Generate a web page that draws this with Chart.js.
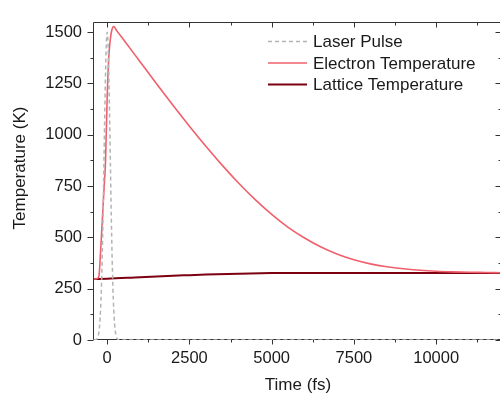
<!DOCTYPE html>
<html>
<head>
<meta charset="utf-8">
<script src="https://cdn.jsdelivr.net/npm/chart.js@4.4.1/dist/chart.umd.min.js"></script>
<style>
  html, body { margin: 0; padding: 0; background: #fff; overflow: hidden; width: 500px; height: 396px; }
  canvas { display: block; }
</style>
</head>
<body>
<canvas id="chart" width="504" height="396"></canvas>
<script>
// values
const pulseTime = [-400, -375, -350, -325, -300, -275, -250, -225, -200, -175, -150, -125, -100, -75, -50, -25, 0,
  25, 50, 75, 100, 125, 150, 175, 200, 225, 250, 275, 300, 325, 350, 375, 400, 12000];
const pulseTemp = [0, 0, 1, 3, 8, 19, 40, 80, 149, 255, 408, 608, 842, 1084, 1298, 1447, 1500,
  1447, 1298, 1084, 842, 608, 408, 255, 149, 80, 40, 19, 8, 3, 1, 0, 0, 0];

const electronTime = [-400, -350, -300, -250, -200, -150, -100, -50, 0, 50, 100, 150, 200, 300, 500, 1000, 1500,
  2000, 2500, 3000, 3500, 4000, 4500, 5000, 5500, 6000, 6500, 7000, 7500, 8000, 8500, 9000, 9500, 10000,
  10500, 11000, 11500, 12000];
const electronTemp = [297, 298, 300, 312, 431, 577, 723, 870, 1180, 1380, 1470, 1515, 1527, 1505, 1463, 1356, 1249,
  1144, 1042, 944, 851, 764, 684, 612, 549, 497, 453, 418, 391, 371, 357, 347, 340, 335,
  332, 330, 329, 328];

const latticeTime = [-400, 0, 1000, 2000, 2500, 3000, 4000, 5000, 6000, 8000, 10000, 12000];
const latticeTemp = [297, 298, 306, 313, 316, 319, 323, 326, 327, 327, 327, 327];

const seriesLabels = ['Laser Pulse', 'Electron Temperature', 'Lattice Temperature'];
const yTitle = 'Temperature (K)';

const xMajor = [0, 2500, 5000, 7500, 10000];
const xMinor = [1250, 3750, 6250, 8750, 11250];
const yMajor = [0, 250, 500, 750, 1000, 1250, 1500];
const yMinor = [125, 375, 625, 875, 1125, 1375];

const FONT = '"Liberation Sans", Arial, sans-serif';

function toPoints(xs, ys) {
    return xs.map((x, i) => ({ x: x, y: ys[i] }));
}

// frame with ticks: outward on left/bottom, inward on top/right
const framePlugin = {
    id: 'frame',
    beforeDatasetsDraw(chart) {
        const { ctx, chartArea: a, scales } = chart;
        const L = Math.round(a.left) - 0.5, R = Math.round(a.right) - 0.5;
        const T = Math.round(a.top) + 0.5, B = Math.round(a.bottom) - 0.5;
        ctx.save();
        ctx.strokeStyle = '#333';
        ctx.lineWidth = 1;
        ctx.beginPath();
        ctx.moveTo(L, T); ctx.lineTo(R, T); ctx.lineTo(R, B); ctx.lineTo(L, B); ctx.closePath();
        ctx.stroke();

        ctx.beginPath();
        const tick = (vals, len) => {
            vals.forEach(v => {
                const y = Math.round(scales.y.getPixelForValue(v)) + 0.5;
                ctx.moveTo(L - len, y); ctx.lineTo(L, y);
                ctx.moveTo(R, y); ctx.lineTo(R - len, y);
            });
        };
        tick(yMajor, 6);
        tick(yMinor, 3);
        const tickX = (vals, len) => {
            vals.forEach(v => {
                const x = Math.round(scales.x.getPixelForValue(v)) + 0.5;
                ctx.moveTo(x, B); ctx.lineTo(x, B + len);
                ctx.moveTo(x, T); ctx.lineTo(x, T + len);
            });
        };
        tickX(xMajor, 5);
        tickX(xMinor, 3);
        ctx.stroke();

        // y axis title
        ctx.translate(20, 168);
        ctx.rotate(-Math.PI / 2);
        ctx.font = '17px ' + FONT;
        ctx.fillStyle = '#1a1a1a';
        ctx.textAlign = 'center';
        ctx.textBaseline = 'middle';
        ctx.fillText(yTitle, 0, 0);
        ctx.restore();
    },
    afterDraw(chart) {
        // legend in the upper right of the plot
        const { ctx } = chart;
        const rows = [41.5, 63, 84.5];
        ctx.save();
        ctx.font = '17px ' + FONT;
        ctx.textBaseline = 'middle';
        ctx.textAlign = 'left';
        chart.data.datasets.forEach((ds, i) => {
            const y = rows[i];
            ctx.beginPath();
            ctx.strokeStyle = ds.borderColor;
            ctx.lineWidth = ds.borderWidth;
            ctx.setLineDash(ds.borderDash || []);
            ctx.moveTo(268, y); ctx.lineTo(307, y);
            ctx.stroke();
            ctx.setLineDash([]);
            ctx.fillStyle = '#1a1a1a';
            ctx.fillText(ds.label, 313, y + 1);
        });
        ctx.restore();
    }
};

new Chart(document.getElementById('chart'), {
    type: 'line',
    data: {
        datasets: [
            {
                label: seriesLabels[0],
                data: toPoints(pulseTime, pulseTemp),
                borderColor: '#b4b4b4',
                borderWidth: 1.5,
                borderDash: [4, 3],
                pointRadius: 0,
                cubicInterpolationMode: 'monotone'
            },
            {
                label: seriesLabels[1],
                data: toPoints(electronTime, electronTemp),
                borderColor: '#f0606c',
                borderWidth: 1.6,
                pointRadius: 0,
                cubicInterpolationMode: 'monotone'
            },
            {
                label: seriesLabels[2],
                data: toPoints(latticeTime, latticeTemp),
                borderColor: '#7d0010',
                borderWidth: 2,
                pointRadius: 0,
                cubicInterpolationMode: 'monotone'
            }
        ]
    },
    options: {
        responsive: false,
        animation: false,
        devicePixelRatio: 1,
        layout: { padding: { top: 11, right: 2, left: 0, bottom: 0 } },
        plugins: { legend: { display: false }, tooltip: { enabled: false } },
        scales: {
            x: {
                type: 'linear',
                min: -400,
                max: 12000,
                afterBuildTicks: s => { s.ticks = xMajor.map(v => ({ value: v })); },
                afterFit: s => { s.height = 56; },
                grid: { display: false, drawTicks: false },
                border: { display: false },
                ticks: {
                    callback: v => String(v),
                    padding: 9,
                    maxRotation: 0,
                    color: '#1a1a1a',
                    font: { family: FONT, size: 16.5 }
                },
                title: {
                    display: true,
                    text: 'Time (fs)',
                    color: '#1a1a1a',
                    padding: { top: 0, bottom: 0 },
                    font: { family: FONT, size: 17 }
                }
            },
            y: {
                min: 0,
                max: 1550,
                afterBuildTicks: s => { s.ticks = yMajor.map(v => ({ value: v })); },
                afterFit: s => { s.width = 94; },
                grid: { display: false, drawTicks: false },
                border: { display: false },
                ticks: {
                    callback: v => String(v),
                    padding: 12,
                    color: '#1a1a1a',
                    font: { family: FONT, size: 16.5 }
                }
            }
        }
    },
    plugins: [framePlugin]
});
</script>
</body>
</html>
